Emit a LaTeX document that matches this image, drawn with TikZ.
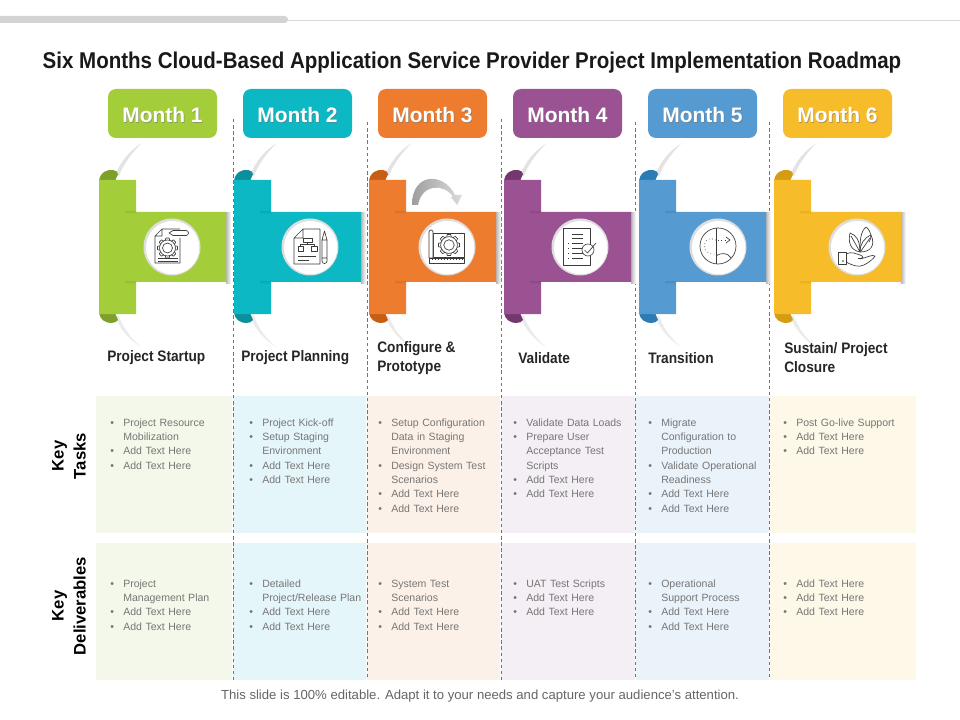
\documentclass[tikz,border=0pt]{standalone}
\usepackage{fontspec}
\setmainfont{Liberation Sans}
\newfontfamily\narrowb[FakeStretch=0.9]{Liberation Sans}
\usetikzlibrary{calc}
\definecolor{c0}{HTML}{A4CE39}\definecolor{d0}{HTML}{7F9F2B}\definecolor{p0}{HTML}{F3F8EA}
\definecolor{c1}{HTML}{0BB8C4}\definecolor{d1}{HTML}{0C8F9C}\definecolor{p1}{HTML}{E5F6FA}
\definecolor{c2}{HTML}{EE7C2E}\definecolor{d2}{HTML}{C65F14}\definecolor{p2}{HTML}{FCF1E8}
\definecolor{c3}{HTML}{9B5292}\definecolor{d3}{HTML}{74386F}\definecolor{p3}{HTML}{F4EEF5}
\definecolor{c4}{HTML}{559BD2}\definecolor{d4}{HTML}{2B7BB5}\definecolor{p4}{HTML}{EBF3FA}
\definecolor{c5}{HTML}{F6BC2A}\definecolor{d5}{HTML}{D49C10}\definecolor{p5}{HTML}{FEF8E8}
\definecolor{inkc}{HTML}{3C3C3C}
\definecolor{bodyc}{HTML}{767676}
\newcommand{\bi}[1]{\par\noindent\hangindent=9.75pt\hangafter=1\makebox[9.75pt][l]{\textbullet}#1}
\tikzset{
  x=0.75pt,y=-0.75pt,
  monthbox/.style={rounded corners=6pt,minimum width=81.75pt,minimum height=36.75pt,inner sep=0pt},
  monthtxt/.style={text=white,font=\bfseries\fontsize{15.7}{17}\selectfont},
  heading/.style={anchor=west,align=left,inner sep=0pt,font=\narrowb\bfseries\fontsize{11.4}{14.3}\selectfont,text=black!85},
  sidelabel/.style={rotate=90,align=center,inner sep=0pt,font=\bfseries\fontsize{12.5}{16.5}\selectfont,text=black},
  celltxt/.style={anchor=north west,inner sep=0pt,text width=108pt,align=left,text=bodyc,font=\fontsize{7.9}{10.72}\selectfont},
  sep/.style={dash pattern=on 2.6pt off 2pt,draw=black!55,line width=0.4pt},
  icon/.style={draw=inkc,line width=0.5pt,fill=none,line join=round},
}
\newcommand{\geari}[3]{% x y r
  \foreach \a in {0,45,...,315}{
    \draw[icon,fill=white,rotate around={\a:(#1,#2)}] (#1-#3*0.22,#2-#3*0.78) -- (#1-#3*0.16,#2-#3) -- (#1+#3*0.16,#2-#3) -- (#1+#3*0.22,#2-#3*0.78);
  }
  \draw[icon] (#1,#2) circle[radius=#3*0.8];
  \draw[icon] (#1,#2) circle[radius=#3*0.5];
}
\begin{document}
\begin{tikzpicture}
\useasboundingbox (0,0) rectangle (960,720);
\fill[white] (0,0) rectangle (960,720);
% top rule
\draw[black!15,line width=0.5pt] (288,20.5) -- (960,20.5);
\fill[black!17,rounded corners=2.5pt] (-5,16) rectangle (288,23);
% title
\node[inner sep=0pt,text=black!90,font=\narrowb\bfseries\fontsize{17.1}{19}\selectfont] (title) at (472,62.5) {Six Months Cloud-Based Application Service Provider Project Implementation Roadmap};
% table cells
\foreach \i/\a/\b in {0/96/232,1/233/366,2/367/500,3/501/635,4/636/769,5/770/916}{
  \fill[p\i] (\a,396) rectangle (\b,533);
  \fill[p\i] (\a,543) rectangle (\b,680);
}
% separators
\foreach \n/\x/\t in {a/233/119,b/367/122,c/501/119,d/635/122,e/769/122}{
  \coordinate (s\n) at (\x,\t);
  \coordinate (t\n) at (\x,680);
  \draw[sep] (s\n) -- (t\n);
}
% columns
\foreach \i in {0,...,5}{
\begin{scope}[shift={({\i*135},0)}]
  \node[monthbox,fill=c\i] (m\i) at (162.5,113.5) {};
  % swooshes
  \fill[black!11] (142,143) .. controls (130,150) and (120,162) .. (115,176) -- (119,176) .. controls (123,165) and (132,152) .. (142,143) -- cycle;
  \fill[black!8] (115,316) .. controls (120,330) and (130,340) .. (141,347) .. controls (132,339) and (124,330) .. (119,316) -- cycle;
  % folds
  \fill[d\i] (99,181) .. controls (100,172) and (108,169) .. (113,170) .. controls (116,170.5) and (118,172) .. (118,174) -- (115,181) -- cycle;
  \fill[d\i] (99,313) .. controls (100,320) and (106,323) .. (111,323) .. controls (114,323) and (117,322) .. (118,320) -- (115,313) -- cycle;
  % horizontal shadow
  \shade[left color=black!28,right color=white] (226,213) rectangle (231,284);
  % ribbon
  \fill[c\i] (99,180) -- (136,180) -- (136,212) -- (226,212) -- (226,282) -- (136,282) -- (136,314) -- (99,314) -- cycle;
  \shade[top color=d\i,bottom color=c\i,opacity=0.25] (125,212) rectangle (136,214);
  \shade[top color=d\i,bottom color=c\i,opacity=0.25] (125,282) rectangle (136,284);
\end{scope}
}
% month labels
\foreach \i/\lab in {0/Month 1,1/Month 2,2/Month 3,3/Month 4,4/Month 5,5/Month 6}{
  \node[monthtxt,text=black!55,opacity=0.55] at ({\i*135+163.2},116.2) {\lab};
  \node[monthtxt] (ml\i) at ({\i*135+162.5},115.5) {\lab};
}
% icon discs
\foreach \n/\x in {0/172,1/310,2/447,3/580,4/718,5/857}{
  \fill[black!13] (\x,247) circle[radius=28.5];
  \node[circle,fill=white,minimum size=40pt,inner sep=0pt] (disc\n) at (\x+0.6,247.6) {};
}
% curved arrow (month 3)
\shade[left color=black!38,right color=black!14] (412,205) .. controls (412,172) and (444,172) .. (455,195) -- (462,195) -- (457,205) -- (451,197) -- (453,196.5) .. controls (443,183) and (422,184) .. (418,205) -- cycle;
% icon 1
\draw[icon] (162,229) -- (180,229) (180,238) -- (180,263) -- (155,263) -- (155,236) -- (162,229) -- (162,236) -- (155,236);
\draw[icon,fill=white] (169,233) -- (173,230.5) -- (186,230.5) arc(-90:90:2.5) -- (173,235.5) -- cycle;
\geari{167.5}{248}{10}
\draw[icon] (158,258) -- (178,258) (158,261) -- (178,261);
% icon 2
\draw[icon] (303,229) -- (320,229) -- (320,264) -- (294,264) -- (294,238) -- (303,229) -- (303,238) -- (294,238);
\draw[icon] (303,238) rectangle (312,242) (307.5,242) -- (307.5,244) (300.5,246) -- (300.5,244) -- (314,244) -- (314,246) (298,246) rectangle (303,251) (311,246) rectangle (317,251) (298,256) -- (316,256) (298,260) -- (309,260);
\draw[icon] (322,240) -- (324.5,231) -- (327,240) -- (327,261) arc(0:180:2.5) -- cycle (322,240) -- (327,240) (322,258) -- (327,258);
% icon 3
\draw[icon] (433,233) rectangle (464,257);
\draw[icon,fill=white] (429,232) arc(-180:0:2) -- (433,258) -- (429,258) -- cycle;
\draw[icon] (429,258) rectangle (464,263);
\foreach \t in {432,435,...,462}{\draw[inkc,line width=0.3pt] (\t,258) -- (\t,260);}
\geari{449}{245}{10.5}
% icon 4
\draw[icon] (563,228) rectangle (590,265);
\draw[icon] (572,234) -- (583,234) (572,238) -- (583,238);
\foreach \t in {243,248,253,258}{\draw[icon] (568,\t) -- (569,\t) (572,\t) -- (583,\t);}
\draw[icon,fill=white] (588,250) circle[radius=6];
\draw[icon] (584.5,250) -- (587.5,253) -- (596,243);
% icon 5
\draw[icon] (718,246) circle[radius=18];
\draw[icon] (716,228) -- (716,264);
\draw[icon] (716,256) .. controls (722,252) and (728,253) .. (731,258);
\draw[icon,dotted] (716,240) .. controls (706,236) and (703,243) .. (705,249) .. controls (707,253) and (711,255) .. (716,254);
\draw[icon,dotted] (718,240) -- (728,240);
\draw[icon,fill=white] (726,237) -- (730,240) -- (726,243);
% icon 6
\draw[icon] (838,252) rectangle (846,264);
\fill[inkc] (843,261) circle[radius=0.8];
\draw[icon] (846,254) .. controls (852,251) and (856,254) .. (860,255) .. controls (864,256) and (864,259) .. (858,258.5) (846,262) .. controls (852,265) and (858,268) .. (864,265) .. controls (870,262) and (874,258) .. (875,256) .. controls (872,254) and (866,258) .. (860,259);
\draw[icon] (860,252) .. controls (850,250) and (848,242) .. (850,233) .. controls (856,235) and (860,240) .. (860,252) (851,236) -- (860,252);
\draw[icon] (860,252) .. controls (860,242) and (860,232) .. (866,227) .. controls (872,232) and (872,238) .. (869,242);
\draw[icon] (860,252) .. controls (870,252) and (876,246) .. (871,235) .. controls (864,238) and (860,244) .. (860,252) (861,251) -- (870,238);
% headings
\node[heading] (h0) at (107,358) {Project Startup};
\node[heading] (h1) at (241,358) {Project Planning};
\node[heading] (h2) at (377,358) {Configure \&\\Prototype};
\node[heading] (h3) at (518,358) {Validate};
\node[heading] (h4) at (648,358) {Transition};
\node[heading] (h5) at (784,358) {Sustain/ Project\\Closure};
% side labels
\node[sidelabel] (k1) at (69,456) {Key\\Tasks};
\node[sidelabel] (k2) at (69,606) {Key\\Deliverables};
% tasks
\node[celltxt] (ta) at (110,411.8) {\bi{Project Resource\newline Mobilization}\bi{Add Text Here}\bi{Add Text Here}};
\node[celltxt] (tb) at (249,411.8) {\bi{Project Kick-off}\bi{Setup Staging\newline Environment}\bi{Add Text Here}\bi{Add Text Here}};
\node[celltxt] (tc) at (378,411.8) {\bi{Setup Configuration\newline Data in Staging\newline Environment}\bi{Design System Test\newline Scenarios}\bi{Add Text Here}\bi{Add Text Here}};
\node[celltxt] (td) at (513,411.8) {\bi{Validate Data Loads}\bi{Prepare User\newline Acceptance Test\newline Scripts}\bi{Add Text Here}\bi{Add Text Here}};
\node[celltxt] (te) at (648,411.8) {\bi{Migrate\newline Configuration to\newline Production}\bi{Validate Operational\newline Readiness}\bi{Add Text Here}\bi{Add Text Here}};
\node[celltxt] (tf) at (783,411.8) {\bi{Post Go-live Support}\bi{Add Text Here}\bi{Add Text Here}};
% deliverables
\node[celltxt] (da) at (110,572.8) {\bi{Project\newline Management Plan}\bi{Add Text Here}\bi{Add Text Here}};
\node[celltxt] (db) at (249,572.8) {\bi{Detailed\newline Project/Release Plan}\bi{Add Text Here}\bi{Add Text Here}};
\node[celltxt] (dc) at (378,572.8) {\bi{System Test\newline Scenarios}\bi{Add Text Here}\bi{Add Text Here}};
\node[celltxt] (dd) at (513,572.8) {\bi{UAT Test Scripts}\bi{Add Text Here}\bi{Add Text Here}};
\node[celltxt] (de) at (648,572.8) {\bi{Operational\newline Support Process}\bi{Add Text Here}\bi{Add Text Here}};
\node[celltxt] (df) at (783,572.8) {\bi{Add Text Here}\bi{Add Text Here}\bi{Add Text Here}};
% footer
\node[inner sep=0pt,text=black!60,font=\fontsize{9.85}{11}\selectfont] (foot) at (480,696.5) {This slide is 100\% editable. Adapt it to your needs and capture your audience's attention.};
\end{tikzpicture}
\end{document}
